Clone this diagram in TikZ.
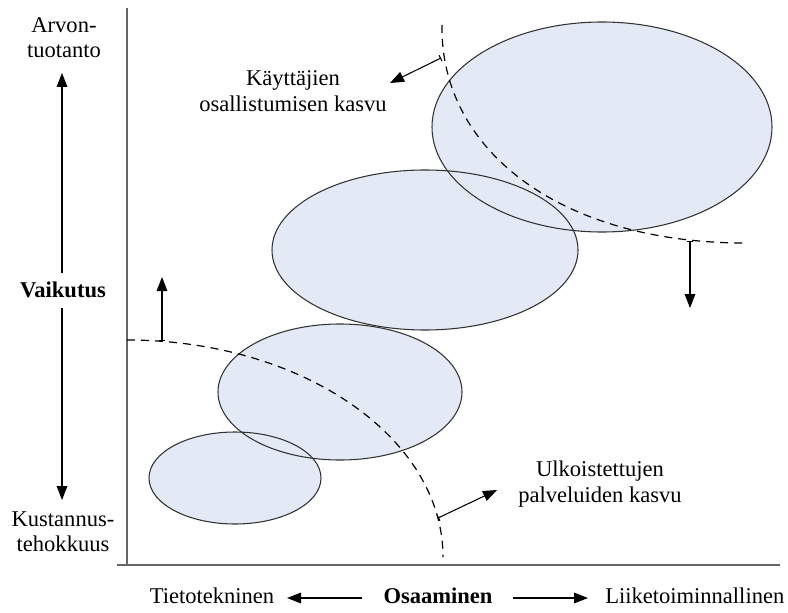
\documentclass[tikz,border=0pt]{standalone}
\usepackage{fontspec}
\setmainfont{Liberation Serif}
\usetikzlibrary{arrows.meta}
\definecolor{bubblefill}{HTML}{E3EAF5}
\begin{document}
\begin{tikzpicture}[x=0.75pt,y=-0.75pt,
  label/.style={font=\fontsize{16.9}{19}\selectfont, align=center, inner sep=0pt},
  axisline/.style={draw=black!60, line width=1.5pt},
  bubbleedge/.style={draw=black!80, line width=0.8pt},
  boundary/.style={draw=black, line width=0.9pt, dash pattern=on 6pt off 4.5pt},
  shiftarrow/.style={draw=black, line width=0.8pt, {Bar[width=5pt]}-{Triangle[length=10.5pt,width=8pt]}},
  dirarrow/.style={draw=black, line width=0.8pt, -{Triangle[length=10.5pt,width=8pt]}}
]
\useasboundingbox (0,0) rectangle (788,613);

% ---- bubbles: fills first, outlines on top ----
\coordinate (e1) at (235,478);
\coordinate (e2) at (340,392);
\coordinate (e3) at (425,250);
\coordinate (e4) at (602,127);
\fill[bubblefill] (e1) ellipse [x radius=64.5pt,  y radius=34.5pt];
\fill[bubblefill] (e2) ellipse [x radius=91.5pt,  y radius=51pt];
\fill[bubblefill] (e3) ellipse [x radius=114.75pt, y radius=60pt];
\fill[bubblefill] (e4) ellipse [x radius=127.5pt, y radius=78.75pt];
\draw[bubbleedge] (e1) ellipse [x radius=64.5pt,  y radius=34.5pt];
\draw[bubbleedge] (e2) ellipse [x radius=91.5pt,  y radius=51pt];
\draw[bubbleedge] (e3) ellipse [x radius=114.75pt, y radius=60pt];
\draw[bubbleedge] (e4) ellipse [x radius=127.5pt, y radius=78.75pt];

% ---- axes ----
\coordinate (ytop) at (127,8);
\coordinate (origin) at (127,565);
\coordinate (xleft) at (117,565);
\coordinate (xright) at (780,565);
\draw[axisline] (ytop) -- (origin);
\draw[axisline] (xleft) -- (xright);

% ---- dashed boundaries ----
\coordinate (lowstart) at (127,340);
\draw[boundary] (lowstart) arc[start angle=90, end angle=0, x radius=237pt, y radius=162.75pt];
\coordinate (upstart) at (442,25);
\coordinate (upend) at (745,243);
\draw[boundary] (upstart) .. controls (440,150) and (560,243) .. (upend);

% ---- shift arrows on the boundaries ----
\coordinate (a1s) at (162,341); \coordinate (a1e) at (162,277);
\coordinate (a2s) at (438,518); \coordinate (a2e) at (497,490);
\coordinate (a3s) at (441,58);  \coordinate (a3e) at (390,83);
\coordinate (a4s) at (690,241); \coordinate (a4e) at (690,308);
\draw[shiftarrow] (a1s) -- (a1e);
\draw[shiftarrow] (a2s) -- (a2e);
\draw[shiftarrow] (a3s) -- (a3e);
\draw[shiftarrow] (a4s) -- (a4e);

% ---- bubble-trend labels ----
\node[label] (users) at (293,91) {Käyttäjien\\osallistumisen kasvu};
\node[label] (outsrc) at (600,484) {Ulkoistettujen\\palveluiden kasvu};

% ---- vertical dimension ----
\node[label] (arvo) at (64,38) {Arvon-\\tuotanto};
\node[label, font=\fontsize{16.9}{19}\selectfont\bfseries] (vaik) at (63,290) {Vaikutus};
\node[label] (kust) at (63,532) {Kustannus-\\tehokkuus};
\coordinate (vupfrom) at (62,273); \coordinate (vupto) at (62,73);
\coordinate (vdnfrom) at (62,308); \coordinate (vdnto) at (62,500);
\draw[dirarrow] (vupfrom) -- (vupto);
\draw[dirarrow] (vdnfrom) -- (vdnto);

% ---- horizontal dimension ----
\node[label, anchor=base] (tieto) at (212,603) {Tietotekninen};
\node[label, anchor=base, font=\fontsize{16.9}{19}\selectfont\bfseries] (osaa) at (438,603) {Osaaminen};
\node[label, anchor=base west] (liike) at (605,603) {Liiketoiminnallinen};
\coordinate (hlfrom) at (362,598); \coordinate (hlto) at (287,598);
\coordinate (hrfrom) at (513,598); \coordinate (hrto) at (588,598);
\draw[dirarrow] (hlfrom) -- (hlto);
\draw[dirarrow] (hrfrom) -- (hrto);
\end{tikzpicture}
\end{document}
